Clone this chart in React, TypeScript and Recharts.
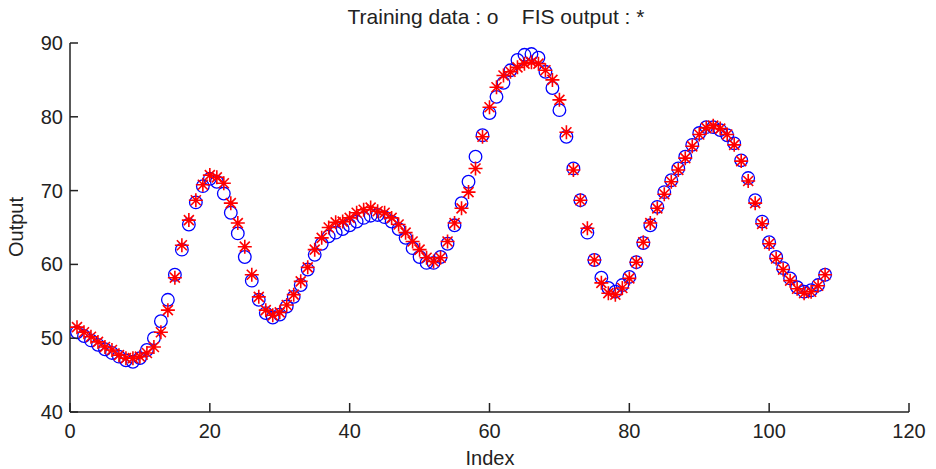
import React from 'react'
import { ScatterChart, Scatter, XAxis, YAxis, Label } from 'recharts'

// Index 1..108 of the training set
const indexes = Array.from({ length: 108 }, (_, i) => i + 1)

const trainingData = [
  50.8, 50.3, 49.7, 49.1, 48.5, 48.0, 47.5, 47.0, 46.8, 47.3,
  48.4, 50.0, 52.3, 55.2, 58.6, 62.0, 65.4, 68.4, 70.6, 71.6,
  71.2, 69.6, 67.0, 64.2, 61.0, 57.8, 55.2, 53.4, 52.8, 53.2,
  54.3, 55.6, 57.2, 59.3, 61.3, 62.8, 63.8, 64.3, 64.8, 65.3,
  65.8, 66.3, 66.6, 66.7, 66.4, 65.8, 64.8, 63.6, 62.2, 61.0,
  60.2, 60.2, 61.0, 62.8, 65.3, 68.3, 71.2, 74.6, 77.5, 80.5,
  82.7, 84.6, 86.3, 87.7, 88.4, 88.5, 88.0, 86.1, 83.9, 80.9,
  77.3, 73.0, 68.7, 64.3, 60.6, 58.2, 56.8, 56.3, 57.2, 58.3,
  60.3, 62.9, 65.3, 67.8, 69.8, 71.4, 73.0, 74.6, 76.2, 77.8,
  78.6, 78.6, 78.2, 77.5, 76.4, 74.1, 71.7, 68.7, 65.8, 63.0,
  61.0, 59.5, 58.1, 56.9, 56.3, 56.5, 57.2, 58.6,
]

const fisOutput = [
  51.5, 50.8, 50.2, 49.5, 48.8, 48.4, 47.7, 47.3, 47.3, 47.5,
  48.0, 48.8, 50.8, 53.8, 58.2, 62.6, 66.0, 68.7, 70.8, 72.1,
  71.8, 71.0, 68.3, 65.6, 62.4, 58.6, 55.6, 53.8, 53.1, 53.5,
  54.5, 55.9, 57.7, 59.6, 62.0, 63.6, 65.0, 65.7, 65.8, 66.3,
  67.0, 67.4, 67.7, 67.2, 67.0, 66.3, 65.4, 64.3, 63.1, 62.0,
  60.9, 60.4, 60.9, 63.1, 65.6, 67.6, 69.8, 73.0, 77.3, 81.3,
  84.0, 85.6, 86.1, 86.7, 87.2, 87.4, 87.2, 86.3, 85.0, 82.3,
  77.9, 72.8, 68.7, 64.9, 60.6, 57.5, 56.1, 55.9, 56.8, 58.1,
  60.3, 63.0, 65.6, 67.6, 69.5, 71.2, 72.8, 74.4, 76.0, 77.6,
  78.5, 78.8, 78.4, 77.6, 76.2, 74.0, 71.3, 68.3, 65.5, 62.8,
  60.8, 59.3, 57.8, 56.7, 56.1, 56.3, 57.1, 58.6,
]

const xTicks = [0, 20, 40, 60, 80, 100, 120]
const yTicks = [40, 50, 60, 70, 80, 90]

const trainingPoints = indexes.map((idx, i) => ({ index: idx, value: trainingData[i] }))
const fisPoints = indexes.map((idx, i) => ({ index: idx, value: fisOutput[i] }))

const FONT = '"Liberation Sans", Arial, sans-serif'
const INK = '#222'

const CircleMark = (props: any) => (
  <circle cx={props.cx} cy={props.cy} r={6.3} fill="none" stroke="#0000ff" strokeWidth={1.3} />
)

const StarMark = (props: any) => {
  const { cx, cy } = props
  const d = `M${cx - 7},${cy}h14M${cx},${cy - 7}v14M${cx - 5},${cy - 5}l10,10M${cx - 5},${cy + 5}l10,-10`
  return <path d={d} stroke="#ff0000" strokeWidth={1.6} fill="none" />
}

// tick marks point inward, like the original figure
const XTick = (props: any) => {
  const { x, y, payload } = props
  const axisY = y - 8
  return (
    <g>
      <line x1={x} y1={axisY} x2={x} y2={axisY - 9} stroke={INK} strokeWidth={1.5} />
      <text x={x} y={y + 18} textAnchor="middle" fontSize={20} fill={INK} fontFamily={FONT}>
        {payload.value}
      </text>
    </g>
  )
}

const YTick = (props: any) => {
  const { x, y, payload } = props
  const axisX = x + 8
  return (
    <g>
      <line x1={axisX} y1={y} x2={axisX + 8} y2={y} stroke={INK} strokeWidth={1.5} />
      <text x={axisX - 7} y={y + 7} textAnchor="end" fontSize={20} fill={INK} fontFamily={FONT}>
        {payload.value}
      </text>
    </g>
  )
}

export default function App() {
  return (
    <div style={{ position: 'absolute', left: 0, top: 0, width: 936, height: 469, background: '#fff' }}>
      <div
        style={{
          position: 'absolute',
          left: 76,
          width: 840,
          top: 6,
          textAlign: 'center',
          fontFamily: FONT,
          fontSize: 21,
          lineHeight: '22px',
          color: INK,
          whiteSpace: 'pre',
        }}
      >
        {'Training data : o    FIS output : *'}
      </div>
      <ScatterChart width={936} height={469} margin={{ top: 43, right: 27, bottom: 0, left: 0 }}>
        <XAxis
          type="number"
          dataKey="index"
          domain={[0, 120]}
          ticks={xTicks}
          height={57}
          tickSize={8}
          tickMargin={0}
          tickLine={false}
          axisLine={{ stroke: INK, strokeWidth: 1.5 }}
          tick={<XTick />}
          interval={0}
        >
          <Label
            content={() => (
              <text x={490} y={465} textAnchor="middle" fontSize={20} fill={INK} fontFamily={FONT}>
                Index
              </text>
            )}
          />
        </XAxis>
        <YAxis
          type="number"
          dataKey="value"
          domain={[40, 90]}
          ticks={yTicks}
          width={70}
          tickSize={8}
          tickMargin={0}
          tickLine={false}
          axisLine={{ stroke: INK, strokeWidth: 1.5 }}
          tick={<YTick />}
          interval={0}
        >
          <Label
            content={() => (
              <text
                x={23}
                y={227}
                transform="rotate(-90 23 227)"
                textAnchor="middle"
                fontSize={20}
                fill={INK}
                fontFamily={FONT}
              >
                Output
              </text>
            )}
          />
        </YAxis>
        <Scatter name="Training data" data={trainingPoints} shape={<CircleMark />} isAnimationActive={false} />
        <Scatter name="FIS output" data={fisPoints} shape={<StarMark />} isAnimationActive={false} />
      </ScatterChart>
    </div>
  )
}
